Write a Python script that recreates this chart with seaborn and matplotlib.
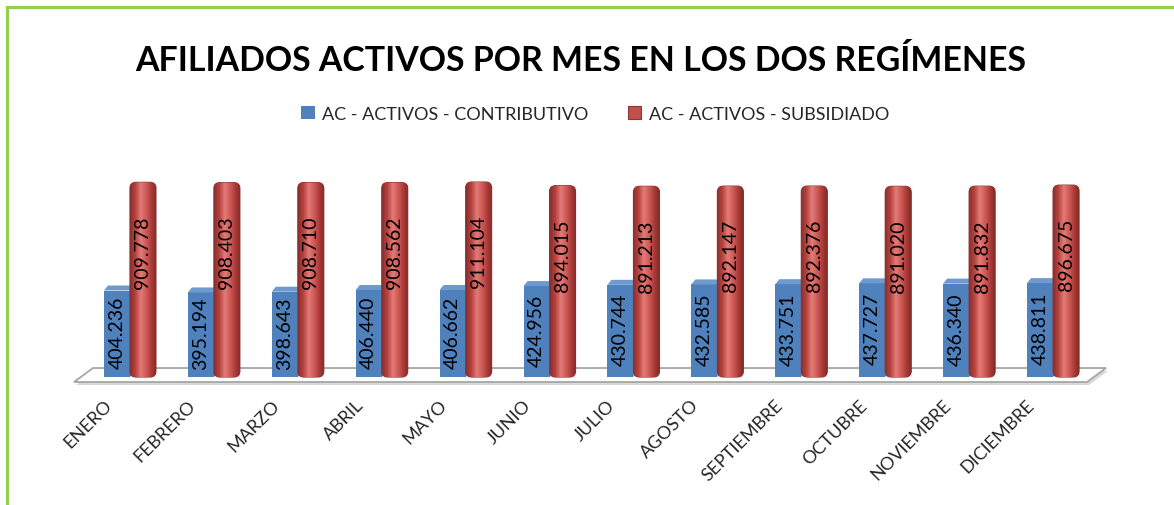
import numpy as np
import pandas as pd
import seaborn as sns
import matplotlib
matplotlib.use("Agg")
import matplotlib.pyplot as plt
from matplotlib.patches import FancyBboxPatch, Polygon, Rectangle
import matplotlib.transforms as mtransforms
from matplotlib.colors import LinearSegmentedColormap

# ---------------- data ----------------
meses = ["ENERO", "FEBRERO", "MARZO", "ABRIL", "MAYO", "JUNIO", "JULIO",
         "AGOSTO", "SEPTIEMBRE", "OCTUBRE", "NOVIEMBRE", "DICIEMBRE"]
contributivo = [404236, 395194, 398643, 406440, 406662, 424956,
                430744, 432585, 433751, 437727, 436340, 438811]
subsidiado = [909778, 908403, 908710, 908562, 911104, 894015,
              891213, 892147, 892376, 891020, 891832, 896675]
series = ["AC - ACTIVOS - CONTRIBUTIVO", "AC - ACTIVOS - SUBSIDIADO"]
titulo = "AFILIADOS ACTIVOS POR MES EN LOS DOS REGÍMENES"

df = pd.DataFrame({
    "mes": meses * 2,
    "valor": contributivo + subsidiado,
    "serie": [series[0]] * len(meses) + [series[1]] * len(meses),
})

BLUE = "#4F81BD"
RED = "#C0504D"

sns.set_theme(style="white")
plt.rcParams["font.family"] = ["Lato", "DejaVu Sans"]

W, H = 1174, 506
fig = plt.figure(figsize=(W / 100, H / 100), dpi=100)
fig.patch.set_facecolor("white")

ax_left, ax_bottom_px, ax_w, ax_h = 88, 393, 1007, 229
ax = fig.add_axes([ax_left / W, (H - ax_bottom_px) / H, ax_w / W, ax_h / H])

sns.barplot(data=df, x="mes", y="valor", hue="serie",
            palette=[BLUE, RED], width=0.62, gap=0, saturation=1,
            errorbar=None, legend=False, ax=ax)

ymin, ymax = -70000, 1000000
ax.set_xlim(-0.5, len(meses) - 0.5)
ax.set_ylim(ymin, ymax)
ypp = (ymax - ymin) / ax_h          # data units per pixel (y)
xpp = len(meses) / ax_w             # data units per pixel (x)

for s in ax.spines.values():
    s.set_visible(False)
ax.set_yticks([])
ax.set_xlabel("")
ax.set_ylabel("")
ax.set_facecolor("none")

# floor (3D base)
n = len(meses)
fl, fr = -0.5 - 14 * xpp, n - 0.5 - 8 * xpp
back_dx = 19 * xpp
front_y, back_y = -5 * ypp, 9 * ypp
shadow = Polygon([(fl + 2 * xpp, front_y - 3 * ypp), (fr + 2 * xpp, front_y - 3 * ypp),
                  (fr + back_dx + 2 * xpp, back_y - 3 * ypp), (fl + back_dx + 2 * xpp, back_y - 3 * ypp)],
                 closed=True, facecolor="#D9D9D9", edgecolor="none", zorder=0.5, clip_on=False)
ax.add_patch(shadow)
floor = Polygon([(fl, front_y), (fr, front_y), (fr + back_dx, back_y), (fl + back_dx, back_y)],
                closed=True, facecolor="white", edgecolor="#A6A6A6", lw=1.3, zorder=1, clip_on=False)
ax.add_patch(floor)

# blue bars: give them a 3D top/side face
dx3, dy3 = 4 * xpp, 5 * ypp
for bar, v in zip(ax.containers[0], contributivo):
    bar.set_zorder(2)
    bar.set_edgecolor("none")
    x0, w, h = bar.get_x(), bar.get_width(), bar.get_height()
    side = Polygon([(x0 + w, 0), (x0 + w + dx3, dy3), (x0 + w + dx3, h + dy3), (x0 + w, h)],
                   closed=True, facecolor="#3A6597", edgecolor="none", zorder=2)
    top = Polygon([(x0, h), (x0 + dx3, h + dy3), (x0 + w + dx3, h + dy3), (x0 + w, h)],
                  closed=True, facecolor="#6F9AD0", edgecolor="none", zorder=2)
    ax.add_patch(side)
    ax.add_patch(top)
    ax.text(x0 + w / 2, h / 2 + 2 * ypp, f"{v:,}".replace(",", "."), rotation=90,
            ha="center", va="center", fontsize=14, color="black", zorder=5)

# red bars: cylinders
cmap = LinearSegmentedColormap.from_list(
    "cyl", ["#8A2F2C", "#B8433F", "#E27C78", "#CF5A56", "#A93B38", "#7E2926"])
grad = np.linspace(0, 1, 64).reshape(1, -1)
rx = 6 * xpp
for bar, v in zip(ax.containers[1], subsidiado):
    bar.set_visible(False)
    x0, w, h = bar.get_x(), bar.get_width(), bar.get_height()
    cyl = FancyBboxPatch((x0, 0), w, h, boxstyle=f"round,pad=0,rounding_size={rx}",
                         mutation_aspect=ypp / xpp, facecolor=RED,
                         edgecolor="#8C3532", lw=0.8, zorder=3)
    ax.add_patch(cyl)
    im = ax.imshow(grad, extent=(x0, x0 + w, 0, h), aspect="auto", cmap=cmap,
                   zorder=3.1, interpolation="bilinear")
    im.set_clip_path(cyl)
    ax.text(x0 + w / 2, h - 33 * ypp, f"{v:,}".replace(",", "."), rotation=90,
            ha="center", va="top", fontsize=14, color="black", zorder=5)

ax.set_xlim(-0.5, n - 0.5)
ax.set_ylim(ymin, ymax)

# category labels
ax.set_xticks(range(n))
ax.set_xticklabels(meses, rotation=45, ha="right", va="center",
                   rotation_mode="anchor", fontsize=13)
ax.tick_params(axis="x", length=0, pad=0)
off = mtransforms.ScaledTranslation(-21 / 100, -10 / 100, fig.dpi_scale_trans)
for lab in ax.get_xticklabels():
    lab.set_transform(lab.get_transform() + off)

# title
fig.text(581 / W, 1 - 61 / H, titulo, ha="center", va="center",
         fontsize=24.4, fontweight="bold", color="black")

# legend
handles = [Rectangle((0, 0), 1, 1, facecolor=BLUE, edgecolor="none"),
           Rectangle((0, 0), 1, 1, facecolor=RED, edgecolor="#8C3532", lw=0.8)]
fig.legend(handles, series, loc="center", bbox_to_anchor=(595 / W, 1 - 115 / H),
           ncol=2, frameon=False, fontsize=13, handlelength=0.75, handleheight=0.75,
           handletextpad=0.4, columnspacing=2.2)

# green frame (left/top visible)
frame = Rectangle((6.5 / W, -0.2), 1.3, 1.2 - 7.5 / H, transform=fig.transFigure,
                  fill=False, edgecolor="#92D050", lw=2.3)
fig.patches.append(frame)

fig.savefig("out.png", dpi=100)
